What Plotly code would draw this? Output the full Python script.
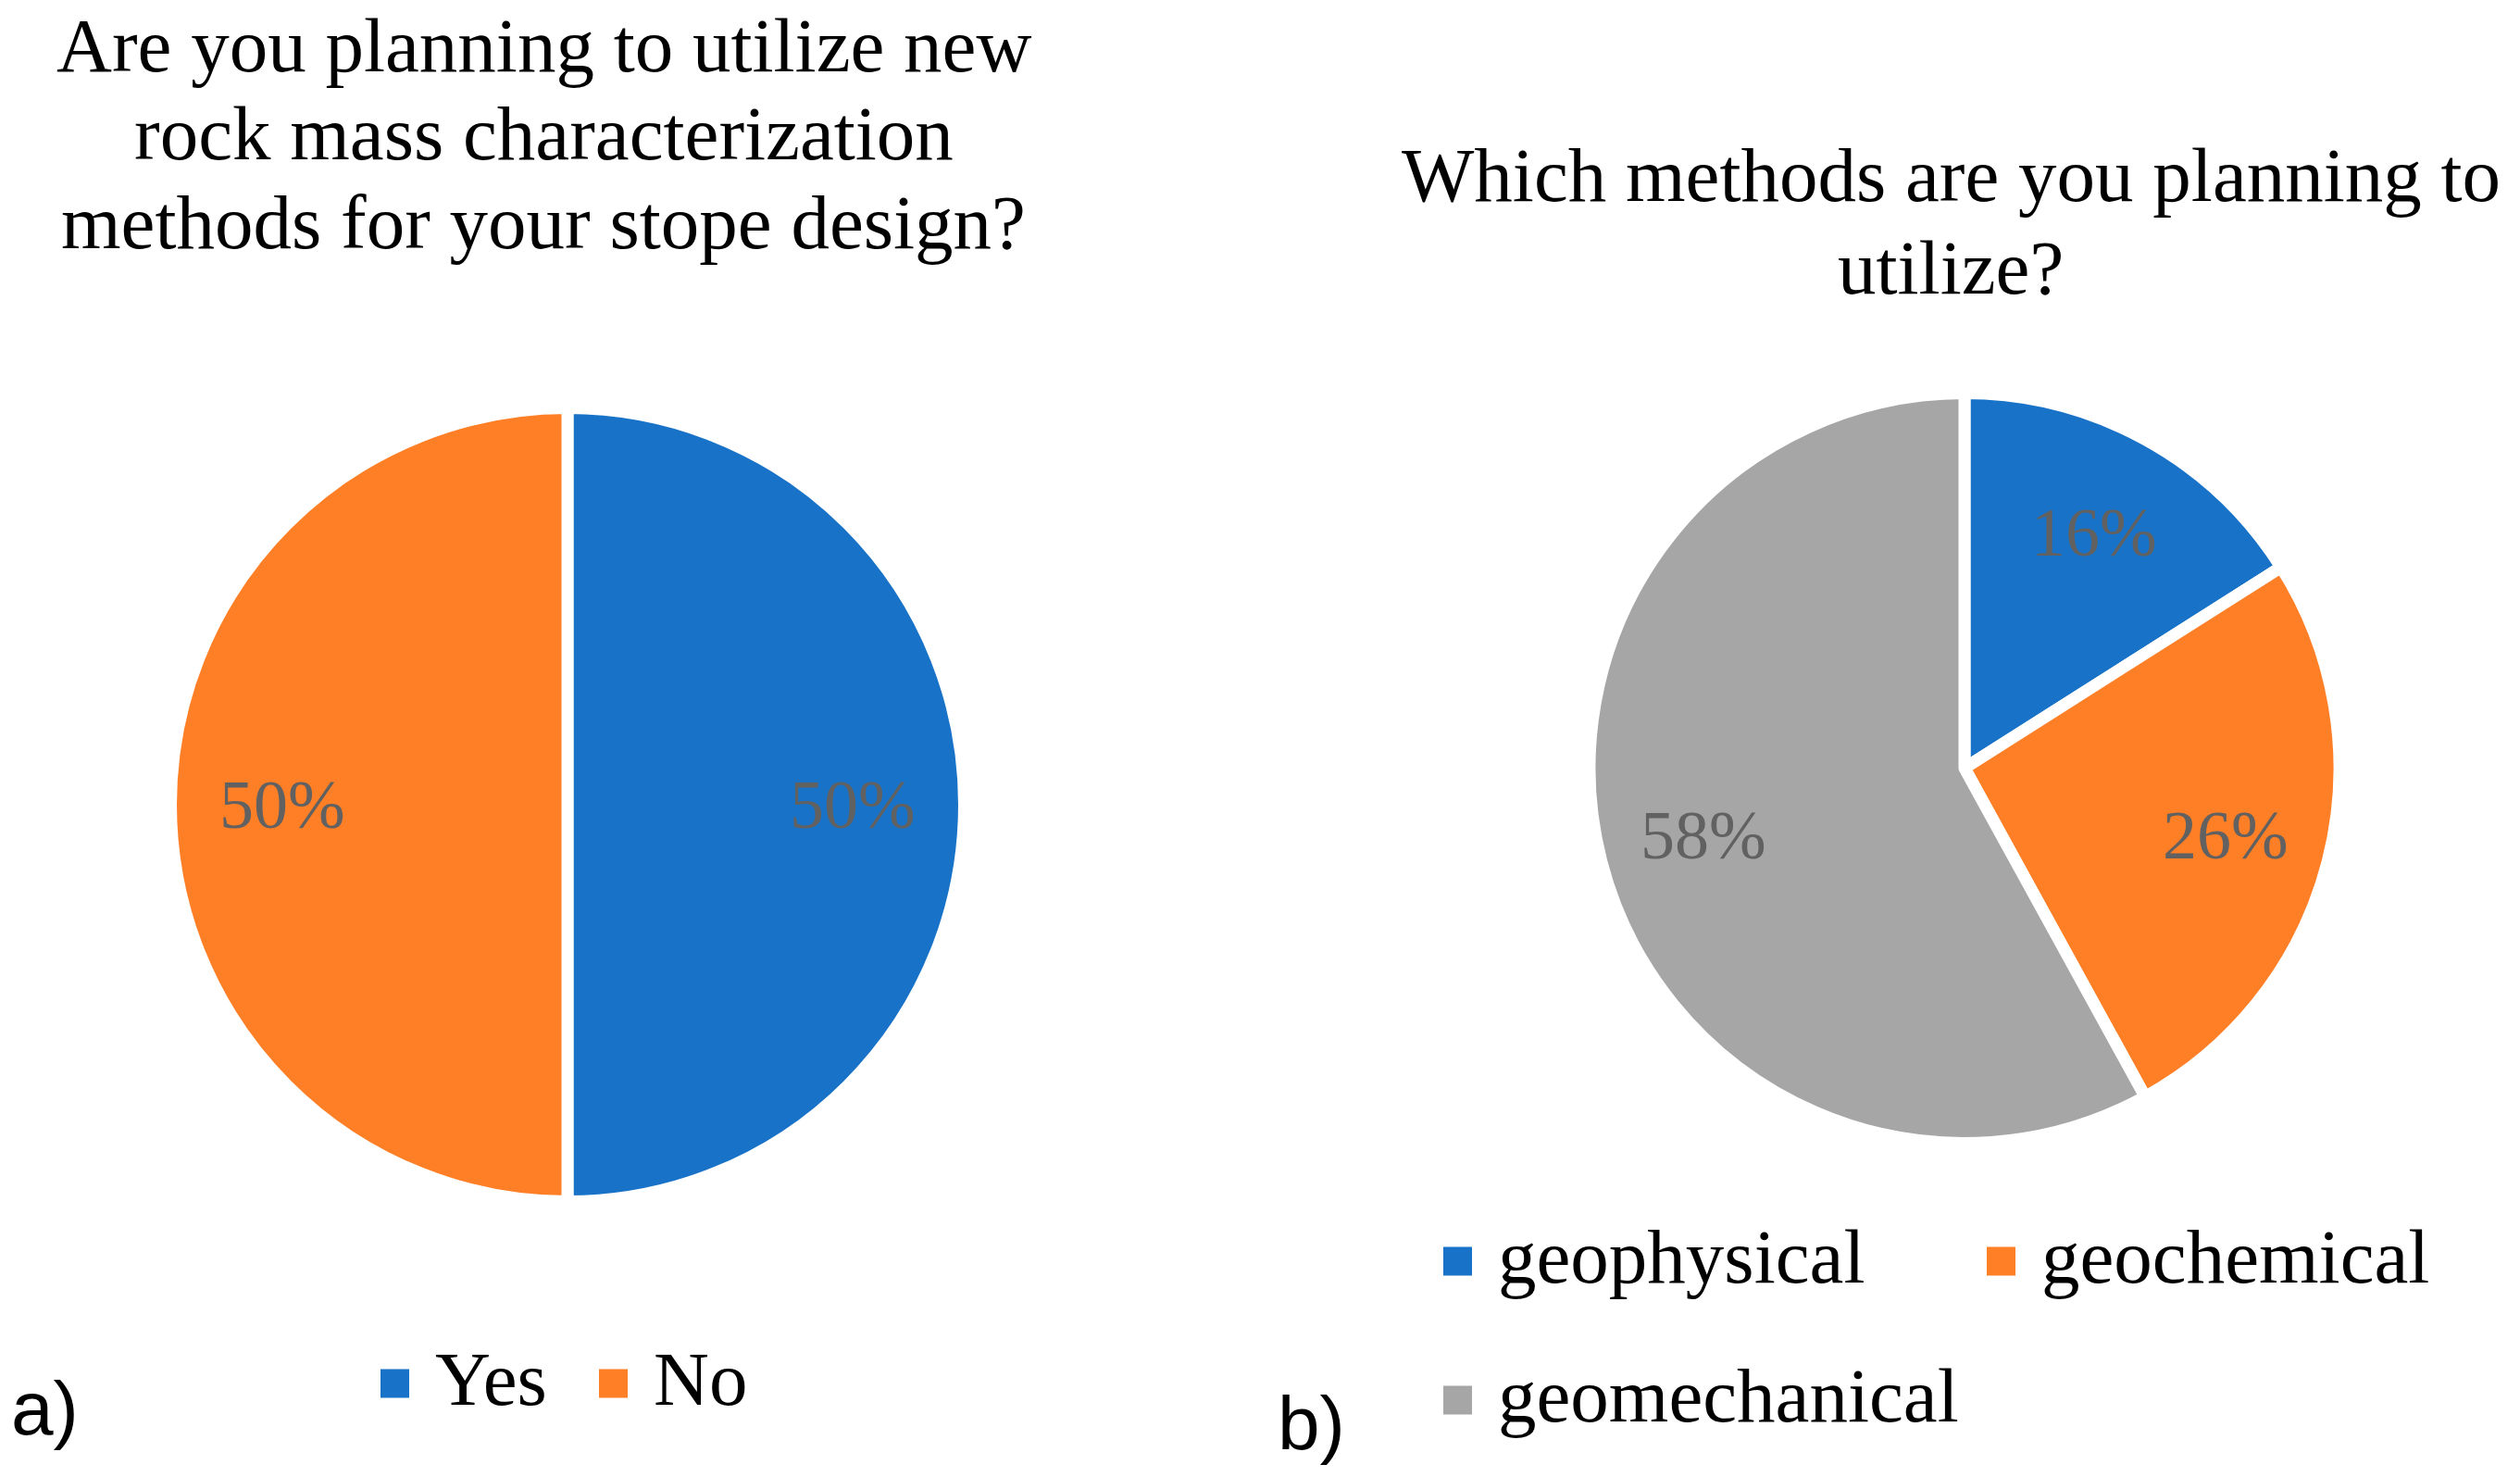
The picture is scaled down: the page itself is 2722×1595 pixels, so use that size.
import math
import plotly.graph_objects as go

# ---------------- data ----------------
q1_labels = ["Yes", "No"]
q1_values = [50, 50]

q2_labels = ["geophysical", "geochemical", "geomechanical"]
q2_values = [16, 26, 58]

q1_colors = ["#1873C8", "#FF7F27"]
q2_colors = ["#1873C8", "#FF7F27", "#A6A6A6"]

title_a_lines = ["Are you planning to utilize new",
                 "rock mass characterization",
                 "methods for your stope design?"]
title_b_lines = ["Which methods are you planning to",
                 "utilize?"]
panel_a = "a)"
panel_b = "b)"

# ---------------- layout constants ----------------
W, H = 2722, 1595
SERIF = "Liberation Serif"
SANS = "Liberation Sans"
LABEL_COLOR = "#616161"
GAP = 13          # white slice separator width
FS = 83           # main text size
FS_PCT = 74       # percentage label size
MID = 0.3375      # baseline -> box middle offset (em) for Liberation Serif

# pie geometry (pixel centre + visible radius)
pie_a = dict(cx=613, cy=869, r=422)
pie_b = dict(cx=2122, cy=829.5, r=398.5)


def px_x(x):
    return x / W


def px_y(y):
    return 1 - y / H


def domain(p):
    R = p["r"] + GAP / 2
    return dict(x=[px_x(p["cx"] - R), px_x(p["cx"] + R)],
                y=[px_y(p["cy"] + R), px_y(p["cy"] - R)])


fig = go.Figure()

fig.add_trace(go.Pie(
    labels=q1_labels, values=q1_values, sort=False, direction="clockwise",
    rotation=0, domain=domain(pie_a), textinfo="none", showlegend=False,
    marker=dict(colors=q1_colors, line=dict(color="white", width=GAP)),
    hoverinfo="label+percent",
))
fig.add_trace(go.Pie(
    labels=q2_labels, values=q2_values, sort=False, direction="clockwise",
    rotation=0, domain=domain(pie_b), textinfo="none", showlegend=False,
    marker=dict(colors=q2_colors, line=dict(color="white", width=GAP)),
    hoverinfo="label+percent",
))

annotations = []
shapes = []


def pct_labels(values, p, frac=0.73):
    total = float(sum(values))
    cum = 0.0
    for v in values:
        mid = (cum + v / 2.0) / total * 2 * math.pi
        cum += v
        x = p["cx"] + frac * p["r"] * math.sin(mid)
        y = p["cy"] - frac * p["r"] * math.cos(mid)
        annotations.append(dict(
            x=px_x(x), y=px_y(y), xref="paper", yref="paper",
            text=f"{v / total * 100:.0f}%", showarrow=False,
            xanchor="center", yanchor="middle",
            font=dict(family=SERIF, size=FS_PCT, color=LABEL_COLOR)))


pct_labels(q1_values, pie_a)
pct_labels(q2_values, pie_b)


def title(lines, cx, baselines):
    for txt, b in zip(lines, baselines):
        annotations.append(dict(x=px_x(cx), y=px_y(b - MID * FS),
                                xref="paper", yref="paper", text=txt,
                                showarrow=False, xanchor="center",
                                yanchor="middle",
                                font=dict(family=SERIF, size=FS,
                                          color="black")))


title(title_a_lines, 587, [77, 172, 268])
title(title_b_lines, 2107, [217, 317])

# panel letters
annotations.append(dict(x=px_x(10), y=px_y(1520), xref="paper", yref="paper",
                        text=panel_a, showarrow=False, xanchor="left",
                        yanchor="middle",
                        font=dict(family=SANS, size=82, color="black")))
annotations.append(dict(x=px_x(1378), y=px_y(1536), xref="paper", yref="paper",
                        text=panel_b, showarrow=False, xanchor="left",
                        yanchor="middle",
                        font=dict(family=SANS, size=82, color="black")))

# legends (built from the category / colour lists)
legend_a_pos = [(411, 1494), (647, 1494)]
legend_b_pos = [(1559, 1362), (2146, 1362), (1559, 1512)]
SQ = 31


def legend(labels, colors, positions):
    for lab, col, (mx, my) in zip(labels, colors, positions):
        shapes.append(dict(type="rect", xref="paper", yref="paper",
                           x0=px_x(mx), x1=px_x(mx + SQ),
                           y0=px_y(my + SQ / 2), y1=px_y(my - SQ / 2),
                           fillcolor=col, line=dict(width=0)))
        annotations.append(dict(x=px_x(mx + 57), y=px_y(my - 5),
                                xref="paper", yref="paper", text=lab,
                                showarrow=False, xanchor="left",
                                yanchor="middle",
                                font=dict(family=SERIF, size=FS,
                                          color="black")))


legend(q1_labels, q1_colors, legend_a_pos)
legend(q2_labels, q2_colors, legend_b_pos)

fig.update_layout(
    width=W, height=H, autosize=False,
    margin=dict(l=0, r=0, t=0, b=0),
    paper_bgcolor="white", plot_bgcolor="white",
    showlegend=False,
    annotations=annotations, shapes=shapes,
)

fig.write_html("out.html",
               config={"displayModeBar": False},
               post_script="document.body.style.margin='0';"
                           "document.body.style.overflow='hidden';")
